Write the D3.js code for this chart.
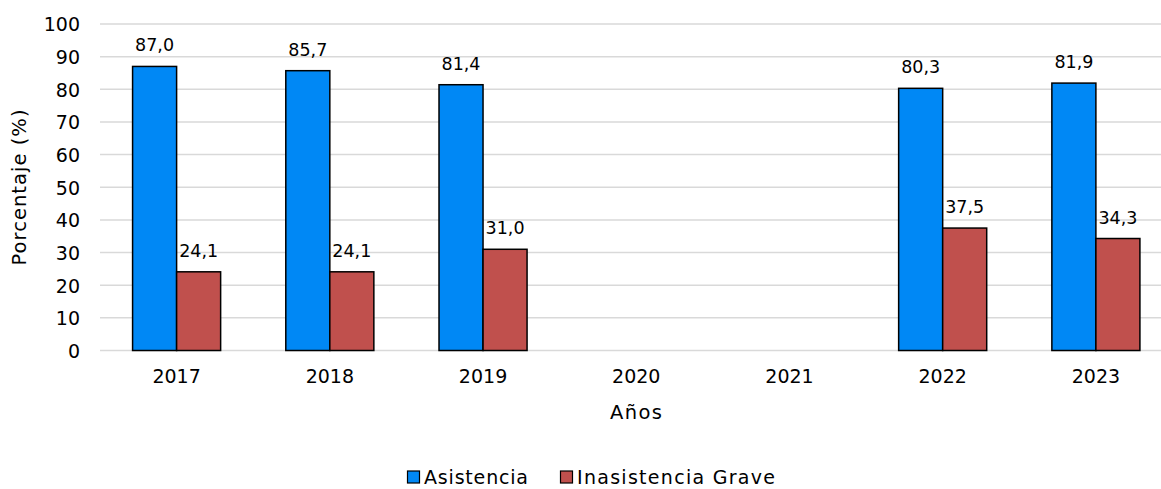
<!DOCTYPE html>
<html><head><meta charset="utf-8">
<script src="https://cdn.jsdelivr.net/npm/d3@7"></script>
<style>body{margin:0;background:#fff}svg{display:block}text{font-family:"DejaVu Sans",Verdana,sans-serif;fill:#000}</style>
</head><body><div id="chart"></div>
<script>
const years = ["2017","2018","2019","2020","2021","2022","2023"];
const seriesNames = ["Asistencia","Inasistencia Grave"];
const asistencia = [87.0, 85.7, 81.4, null, null, 80.3, 81.9];
const inasistencia = [24.1, 24.1, 31.0, null, null, 37.5, 34.3];
const yTicks = [0,10,20,30,40,50,60,70,80,90,100];
const colors = ["#0088F5","#C0504D"];

const W = 1161, H = 489;
const svg = d3.select("#chart").append("svg").attr("width", W).attr("height", H);
const x0 = d3.scaleBand().domain(years).range([100, 1172.5]).padding(0);
const x1 = d3.scaleBand().domain(seriesNames).range([0, x0.bandwidth()]).paddingInner(0).paddingOuter(0.74);
const y = d3.scaleLinear().domain([0,100]).range([350.5, 24]);

// gridlines
svg.append("g").selectAll("line").data(yTicks).join("line")
  .attr("x1", 100).attr("x2", 1172).attr("y1", d=>y(d)).attr("y2", d=>y(d))
  .attr("stroke", "#d9d9d9").attr("stroke-width", 1.5);

// y axis labels
const yAxis = d3.axisLeft(y).tickValues(yTicks).tickSize(0).tickPadding(0);
const gy = svg.append("g").attr("transform","translate(80,0)").call(yAxis);
gy.select(".domain").remove();
gy.selectAll("text").attr("font-size", 19).attr("font-family", "DejaVu Sans").attr("dy","0.36em");

// x axis labels
const xAxis = d3.axisBottom(x0).tickSize(0).tickPadding(0);
const gx = svg.append("g").attr("transform","translate(0,369)").call(xAxis);
gx.select(".domain").remove();
gx.selectAll("text").attr("font-size", 19).attr("font-family", "DejaVu Sans").attr("dy","0.71em");

const data = years.map((yr,i)=>({year:yr, vals:[asistencia[i], inasistencia[i]]}));
const groups = svg.append("g").selectAll("g").data(data).join("g")
  .attr("transform", d=>`translate(${x0(d.year)},0)`);
const items = groups.selectAll("g").data(d=>d.vals.map((v,j)=>({v, s:seriesNames[j], j})).filter(e=>e.v!=null)).join("g");
items.append("rect")
  .attr("x", e=>x1(e.s)).attr("width", x1.bandwidth())
  .attr("y", e=>y(e.v)).attr("height", e=>y(0)-y(e.v))
  .attr("fill", e=>colors[e.j]).attr("stroke","#000").attr("stroke-width",1.5);
items.append("text")
  .attr("x", e=>x1(e.s)+x1.bandwidth()/2).attr("y", e=>y(e.v)-15)
  .attr("text-anchor","middle").attr("font-size",17.5)
  .text(e=>e.v.toFixed(1).replace(".",","));

// axis titles
svg.append("text").attr("transform","translate(26,187.5) rotate(-90)")
  .attr("text-anchor","middle").attr("font-size",19.5)
  .attr("textLength",156).attr("lengthAdjust","spacing").text("Porcentaje (%)");
svg.append("text").attr("x",636).attr("y",419)
  .attr("text-anchor","middle").attr("font-size",19.5)
  .attr("textLength",52).attr("lengthAdjust","spacing").text("Años");

// legend
const legendX = [407, 560];
const legendLen = [104, 198];
const lg = svg.append("g").selectAll("g").data(seriesNames).join("g")
  .attr("transform",(d,i)=>`translate(${legendX[i]},0)`);
lg.append("rect").attr("x",0.5).attr("y",471).attr("width",12).attr("height",12)
  .attr("fill",(d,i)=>colors[i]).attr("stroke","#000").attr("stroke-width",1.2);
lg.append("text").attr("x",17).attr("y",484).attr("font-size",19)
  .attr("textLength",(d,i)=>legendLen[i]).attr("lengthAdjust","spacing").text(d=>d);
</script></body></html>
